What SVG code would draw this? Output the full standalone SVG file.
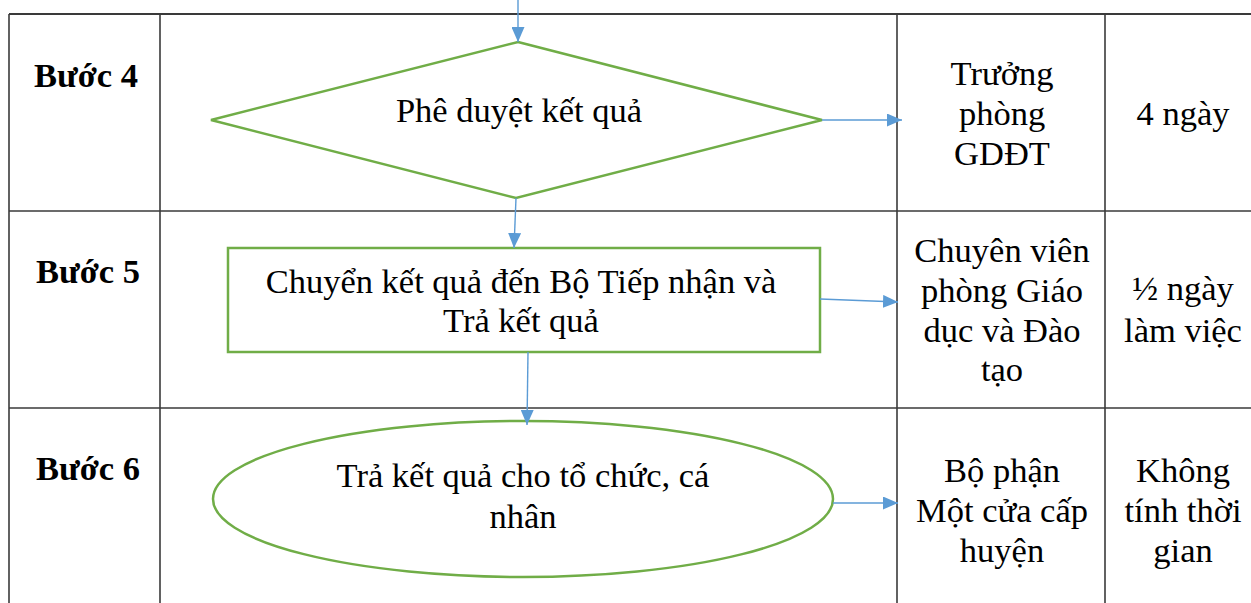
<svg xmlns="http://www.w3.org/2000/svg" width="1251" height="603" viewBox="0 0 1251 603">
<style>
.grid{stroke:#3a3a3a;stroke-width:1.6;fill:none}
.shape{stroke:#70AD47;stroke-width:2.5;fill:#ffffff}
.conn{stroke:#5B9BD5;stroke-width:1.4;fill:none;marker-end:url(#ah)}
text{font-family:'Liberation Serif','DejaVu Serif',serif;font-size:34.5px;fill:#000;text-anchor:middle}
.b{font-weight:bold}
</style>
<defs>
<marker id="ah" viewBox="0 0 10 10" refX="10" refY="5" markerWidth="15" markerHeight="13" preserveAspectRatio="none" markerUnits="userSpaceOnUse" orient="auto">
<path d="M0,0 L10,5 L0,10 z" fill="#5B9BD5"/>
</marker>
</defs>
<rect width="1251" height="603" fill="#ffffff"/>
<g id="table">
<line class="grid" x1="9" y1="14" x2="1251" y2="14" style="stroke-width:2"/>
<line class="grid" x1="9" y1="211" x2="1251" y2="211"/>
<line class="grid" x1="9" y1="408" x2="1251" y2="408"/>
<line class="grid" x1="9" y1="14" x2="9" y2="603"/>
<line class="grid" x1="160" y1="14" x2="160" y2="603"/>
<line class="grid" x1="897" y1="14" x2="897" y2="603"/>
<line class="grid" x1="1105" y1="14" x2="1105" y2="603"/>
</g>
<g id="labels">
<text class="b" x="86" y="87">Bước 4</text>
<text class="b" x="88" y="283">Bước 5</text>
<text class="b" x="88" y="480">Bước 6</text>
</g>
<g id="cells">
<text x="1002" y="85">Trưởng</text>
<text x="1002" y="125">phòng</text>
<text x="1002" y="165">GDĐT</text>
<text x="1183" y="125">4 ngày</text>
<text x="1002" y="262">Chuyên viên</text>
<text x="1002" y="302">phòng Giáo</text>
<text x="1002" y="342">dục và Đào</text>
<text x="1002" y="381">tạo</text>
<text x="1183" y="300">½ ngày</text>
<text x="1183" y="342">làm việc</text>
<text x="1002" y="482">Bộ phận</text>
<text x="1002" y="522">Một cửa cấp</text>
<text x="1002" y="562">huyện</text>
<text x="1183" y="482">Không</text>
<text x="1183" y="522">tính thời</text>
<text x="1183" y="562">gian</text>
</g>
<g id="step4">
<polygon class="shape" points="518,42 822,120 516,198 211,120"/>
<text x="519" y="122">Phê duyệt kết quả</text>
</g>
<g id="step5">
<rect class="shape" x="228" y="248" width="592" height="104"/>
<text x="521" y="293">Chuyển kết quả đến Bộ Tiếp nhận và</text>
<text x="521" y="332">Trả kết quả</text>
</g>
<g id="step6">
<ellipse class="shape" cx="523" cy="499" rx="310" ry="78"/>
<text x="523" y="487">Trả kết quả cho tổ chức, cá</text>
<text x="523" y="528">nhân</text>
</g>
<g id="connectors">
<line class="conn" x1="518" y1="0" x2="518" y2="42"/>
<line class="conn" x1="822" y1="120" x2="902" y2="120"/>
<line class="conn" x1="516" y1="198" x2="514" y2="248"/>
<line class="conn" x1="820" y1="299" x2="898" y2="302"/>
<line class="conn" x1="528" y1="352" x2="527" y2="425"/>
<line class="conn" x1="833" y1="503" x2="898" y2="503"/>
</g>
</svg>
